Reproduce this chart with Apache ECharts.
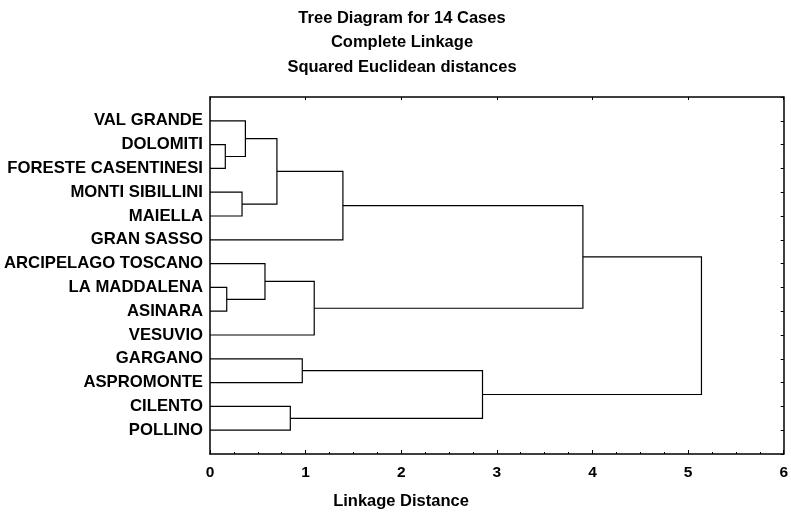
<!DOCTYPE html>
<html>
<head>
<meta charset="utf-8">
<script src="https://cdn.jsdelivr.net/npm/echarts@6/dist/echarts.min.js"></script>
<style>html,body{margin:0;padding:0;background:#fff}#c{width:791px;height:512px}</style>
</head>
<body>
<div id="c"></div>
<script>
// Leaf labels, top to bottom
const leaves = ["VAL GRANDE","DOLOMITI","FORESTE CASENTINESI","MONTI SIBILLINI","MAIELLA","GRAN SASSO","ARCIPELAGO TOSCANO","LA MADDALENA","ASINARA","VESUVIO","GARGANO","ASPROMONTE","CILENTO","POLLINO"];
// Merges: ids 0-13 are leaves, merge k creates id 14+k
const mergeA = [1, 7, 3, 0, 6, 17, 12, 10, 18, 19, 21, 23, 25];
const mergeB = [2, 8, 4, 14, 15, 16, 13, 11, 9, 5, 20, 22, 24];
const mergeHeight = [0.16, 0.175, 0.335, 0.37, 0.575, 0.70, 0.84, 0.965, 1.09, 1.39, 2.85, 3.90, 5.14];
const xTicks = [0, 1, 2, 3, 4, 5, 6];
const titleLines = ["Tree Diagram for 14 Cases", "Complete Linkage", "Squared Euclidean distances"];
const xName = "Linkage Distance";

const nodeY = leaves.map((_, i) => i + 1);
const nodeH = leaves.map(() => 0);
const segs = [];
mergeA.forEach((a, k) => {
  const b = mergeB[k], h = mergeHeight[k];
  segs.push({coords: [[nodeH[a], nodeY[a]], [h, nodeY[a]], [h, nodeY[b]], [nodeH[b], nodeY[b]]]});
  nodeY.push((nodeY[a] + nodeY[b]) / 2);
  nodeH.push(h);
});

const FF = '"Liberation Sans", Arial, sans-serif';
const chart = echarts.init(document.getElementById('c'));
chart.setOption({
  animation: false,
  backgroundColor: '#fff',
  grid: {left: 210, right: 3, top: 97, bottom: 58},
  xAxis: [{
    type: 'value', position: 'bottom', min: xTicks[0], max: xTicks[xTicks.length - 1], interval: 1,
    axisLine: {show: true, onZero: false, lineStyle: {color: '#000', width: 1.5}},
    axisTick: {show: true, inside: true, length: 4, lineStyle: {color: '#000'}},
    minorTick: {show: true, splitNumber: 4, length: 2, lineStyle: {color: '#000'}},
    axisLabel: {color: '#000', fontSize: 15.5, fontWeight: 'bold', fontFamily: FF, margin: 11},
    splitLine: {show: false}
  }, {
    type: 'value', position: 'top', min: xTicks[0], max: xTicks[xTicks.length - 1], interval: 1,
    axisLine: {show: true, onZero: false, lineStyle: {color: '#000', width: 1.5}},
    axisTick: {show: true, inside: true, length: 3, lineStyle: {color: '#000'}},
    axisLabel: {show: false}, splitLine: {show: false}
  }],
  yAxis: [{
    type: 'value', position: 'left', min: 0, max: leaves.length + 1, interval: 1, inverse: true,
    axisLine: {show: true, onZero: false, lineStyle: {color: '#000', width: 1.5}},
    axisTick: {show: false},
    axisLabel: {color: '#000', fontSize: 16.7, fontWeight: 'bold', fontFamily: FF, margin: 7,
      formatter: v => leaves[v - 1] || ''},
    splitLine: {show: false}
  }, {
    type: 'value', position: 'right', min: 0, max: leaves.length + 1, interval: 1, inverse: true,
    axisLine: {show: true, onZero: false, lineStyle: {color: '#000', width: 1.5}},
    axisTick: {show: true, inside: true, length: 3, lineStyle: {color: '#000'}},
    axisLabel: {show: false}, splitLine: {show: false}
  }],
  series: [{
    type: 'lines', coordinateSystem: 'cartesian2d', xAxisIndex: 0, yAxisIndex: 0,
    polyline: true, silent: true,
    lineStyle: {color: '#000', width: 1.2, opacity: 1},
    data: segs
  }],
  graphic: titleLines.map((t, i) => ({
    type: 'text', x: 402, y: 18 + i * 24.5,
    style: {text: t, fontSize: 16.5, fontWeight: 'bold', fontFamily: FF, fill: '#000', align: 'center', verticalAlign: 'middle'}
  })).concat([{
    type: 'text', x: 401, y: 501,
    style: {text: xName, fontSize: 16.5, fontWeight: 'bold', fontFamily: FF, fill: '#000', align: 'center', verticalAlign: 'middle'}
  }])
});
</script>
</body>
</html>
